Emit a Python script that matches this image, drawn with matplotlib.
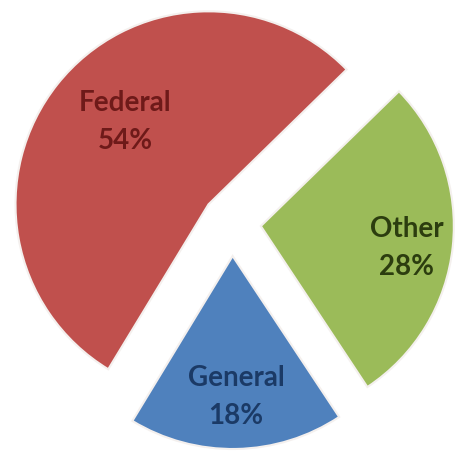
import matplotlib
matplotlib.use("Agg")
from matplotlib import pyplot as plt

# data
labels = ["Other", "Federal", "General"]
shares = [28, 54, 18]
colors = ["#9bbb59", "#c0504d", "#4f81bd"]
text_colors = ["#2c3d0f", "#6e1a19", "#1b3a66"]

plt.rcParams['font.family'] = ['Lato', 'DejaVu Sans']

fig = plt.figure(figsize=(4.66, 4.59), dpi=100)
ax = fig.add_axes([0, 0, 1, 1])
ax.set_aspect('equal')
ax.axis('off')

# pie in pixel units: centre, radius and explode offsets in px
wedges, _ = ax.pie(shares, colors=colors, startangle=-56.5, counterclock=True,
                   radius=193, center=(232, 236), explode=[29, 30, 33],
                   wedgeprops=dict(edgecolor='#f4f0ee', linewidth=1.5))
ax.set_xlim(0, 466)
ax.set_ylim(0, 459)

label_pos = [(407, 211), (125, 337), (236, 62)]
for lab, s, (x, y), c in zip(labels, shares, label_pos, text_colors):
    ax.text(x, y, f"{lab}\n{s}%", ha='center', va='center', fontsize=20,
            color=c, linespacing=1.55, fontweight='bold')

fig.savefig("out.png", dpi=100)
